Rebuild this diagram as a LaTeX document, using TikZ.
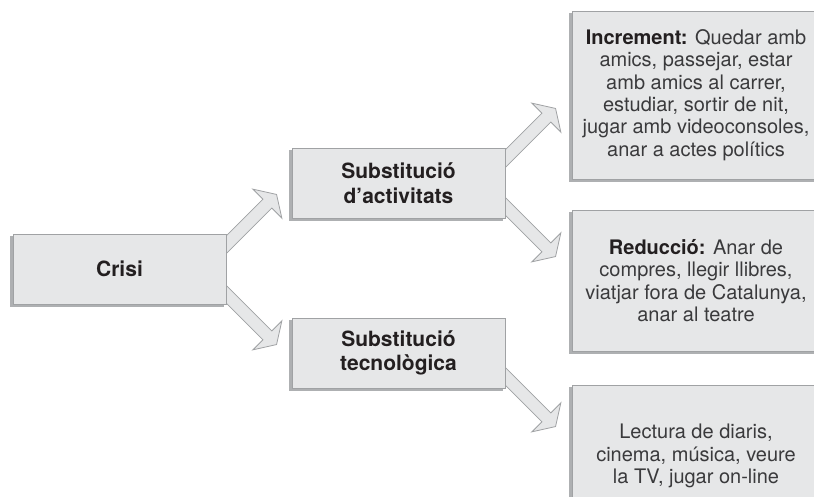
\documentclass[tikz,border=0pt]{standalone}
\usepackage{fontspec}
\setmainfont{TeX Gyre Heros}
\usetikzlibrary{calc}
\definecolor{boxfill}{HTML}{E6E7E8}
\definecolor{boxline}{HTML}{A0A2A4}
\definecolor{shadowc}{HTML}{AEB0B2}
\definecolor{txtc}{HTML}{231F20}
\definecolor{bodyc}{HTML}{3A3A3C}
\newcommand\mylblfont{\fontsize{21}{24.5}\selectfont\bfseries}
\newcommand\mybodyfont{\fontsize{20}{22.4}\selectfont}
\newcommand\mybigarrow[2]{%
  \draw[arrowbody, shift={(#1)}, rotate=#2]
    (-8,-6.25) -- (58,-6.25) -- (58,-20.5) -- (71,0) -- (58,20.5) -- (58,6.25) -- (-8,6.25) -- cycle;}
\begin{document}
\begin{tikzpicture}[x=1pt,y=-1pt,
  box/.style={rectangle, fill=boxfill, draw=boxline, line width=0.7pt, inner sep=0pt, align=center,
    preaction={fill=shadowc, draw=shadowc, transform canvas={shift={(-2.5pt,-2.5pt)}}}},
  lblbox/.style={box, minimum width=213pt, minimum height=70pt, font=\mylblfont, text=txtc},
  txtbox/.style={box, minimum width=248pt, font=\mybodyfont, text=bodyc},
  arrowbody/.style={fill=boxfill, draw=boxline, line width=0.8pt, line join=miter}]
\useasboundingbox (0,0) rectangle (814,497);
\clip (0,0) rectangle (814,497);
\fill[white] (0,0) rectangle (814,497);
% nodes
\path (119.5,269) node[lblbox] (crisi) {Crisi};
\path (398.5,183) node[lblbox] (act) {Substitució\\d’activitats};
\path (398.5,353) node[lblbox] (tec) {Substitució\\tecnològica};
% arrow start points
\coordinate (s1) at ($(crisi.north east)+(0,11)$);
\coordinate (s2) at ($(crisi.south east)+(0,-10)$);
\coordinate (s3) at ($(act.north east)+(0,11)$);
\coordinate (s4) at ($(act.south east)+(0,-12)$);
\coordinate (s5) at ($(tec.south east)+(0,-12)$);
\mybigarrow{s1}{45}
\mybigarrow{s2}{-45}
\mybigarrow{s3}{45}
\mybigarrow{s4}{-45}
\mybigarrow{s5}{-45}
% redraw label boxes over arrow ends
\path (119.5,269) node[lblbox] {Crisi};
\path (398.5,183) node[lblbox] {Substitució\\d’activitats};
\path (398.5,353) node[lblbox] {Substitució\\tecnològica};
% right boxes
\path (696,95) node[txtbox, minimum height=168pt] (inc)
  {\textcolor{txtc}{\bfseries Increment:} Quedar amb\\amics, passejar, estar\\amb amics al carrer,\\estudiar, sortir de nit,\\jugar amb videoconsoles,\\anar a actes polítics};
\path (696,280.5) node[txtbox, minimum height=141pt] (red)
  {\textcolor{txtc}{\bfseries Reducció:} Anar de\\compres, llegir llibres,\\viatjar fora de Catalunya,\\anar al teatre};
\path (696,456) node[txtbox, minimum height=142pt] (lec)
  {Lectura de diaris,\\cinema, música, veure\\la TV, jugar on-line};
\end{tikzpicture}
\end{document}
